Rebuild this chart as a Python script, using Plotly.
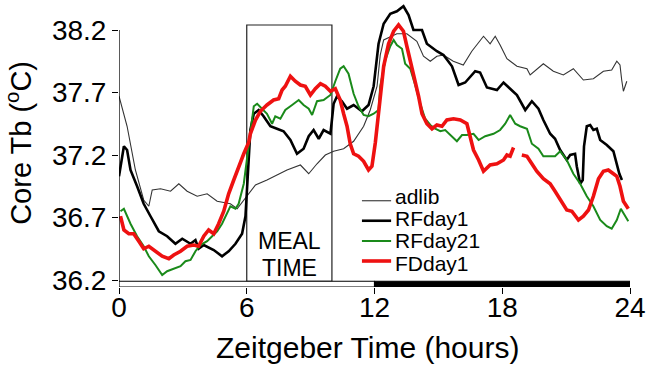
import plotly.graph_objects as go

# Zeitgeber time (hours) and core body temperature (°C) per group
adlib_t = [0.0, 0.38, 0.77, 1.16, 1.40, 1.56, 1.95, 2.42, 2.81, 3.20, 3.67, 4.14, 4.61, 5.23, 5.55,
           5.86, 6.02, 6.41, 6.95, 7.42, 7.89, 8.52, 8.91, 9.30, 9.69, 10.08, 10.55, 11.02, 11.49,
           11.80, 12.12, 12.27, 12.43, 13.05, 13.52, 13.99, 14.30, 14.62, 14.93, 15.24, 15.70,
           16.17, 16.57, 17.12, 17.43, 17.67, 17.90, 18.22, 18.69, 19.16, 19.31, 19.93, 20.40,
           20.87, 21.34, 21.81, 22.28, 22.75, 23.14, 23.38, 23.53, 23.61, 23.69, 23.85]
adlib_tb = [37.67, 37.43, 37.08, 36.84, 36.79, 36.92, 36.93, 36.91, 36.97, 36.91, 36.87, 36.89, 36.83,
            36.81, 36.77, 36.84, 36.87, 36.96, 37.00, 37.04, 37.08, 37.12, 37.05, 37.13, 37.20,
            37.23, 37.25, 37.31, 37.43, 37.56, 37.75, 38.00, 38.12, 38.17, 38.17, 38.11, 37.99,
            37.95, 37.99, 38.00, 37.95, 37.92, 38.03, 38.15, 38.09, 38.15, 38.08, 37.97, 37.91,
            37.89, 37.84, 37.93, 37.87, 37.84, 37.89, 37.80, 37.81, 37.87, 37.88, 37.95, 37.92,
            37.80, 37.71, 37.79]

rf1_t = [0.0, 0.23, 0.38, 0.54, 0.85, 1.16, 1.48, 1.87, 2.26, 2.65, 2.97, 3.36, 3.59, 3.74, 3.98,
         4.45, 4.84, 5.15, 5.47, 5.78, 5.94, 6.02, 6.17, 6.33, 6.56, 6.79, 7.11, 7.42, 7.73, 8.05,
         8.36, 8.67, 8.91, 9.14, 9.38, 9.61, 9.93, 10.00, 10.08, 10.24, 10.47, 10.71, 11.02,
         11.41, 11.72, 11.96, 12.12, 12.19, 12.43, 12.74, 13.05, 13.36, 13.60, 13.83, 14.23,
         14.46, 14.93, 15.24, 15.64, 15.95, 16.26, 16.73, 16.96, 17.28, 17.75, 18.06, 18.37,
         18.69, 19.08, 19.39, 19.70, 19.93, 20.25, 20.48, 20.72, 21.03, 21.19, 21.42, 21.50,
         21.66, 21.78, 21.84, 21.97, 22.13, 22.28, 22.44, 22.60, 22.91, 23.22, 23.38, 23.50, 23.62]
rf1_tb = [37.03, 37.27, 37.24, 37.08, 36.95, 36.81, 36.71, 36.59, 36.55, 36.49, 36.53, 36.49, 36.52,
          36.45, 36.48, 36.44, 36.39, 36.43, 36.49, 36.57, 36.71, 36.95, 37.40, 37.53, 37.56,
          37.51, 37.43, 37.41, 37.39, 37.32, 37.21, 37.25, 37.35, 37.40, 37.33, 37.40, 37.37,
          37.48, 37.61, 37.67, 37.63, 37.57, 37.60, 37.55, 37.60, 37.75, 38.01, 38.09, 38.25,
          38.33, 38.35, 38.39, 38.32, 38.20, 38.20, 38.09, 38.03, 38.00, 37.91, 37.76, 37.78,
          37.87, 37.86, 37.74, 37.72, 37.78, 37.73, 37.68, 37.56, 37.63, 37.57, 37.48, 37.37,
          37.33, 37.24, 37.16, 37.20, 37.21, 37.11, 36.97, 37.00, 37.27, 37.43, 37.44, 37.40,
          37.41, 37.32, 37.28, 37.23, 37.13, 37.05, 37.00]

rf21_t = [0.07, 0.23, 0.54, 0.85, 1.16, 1.40, 1.71, 2.03, 2.26, 2.57, 2.89, 3.12, 3.36, 3.59, 3.82,
          4.14, 4.37, 4.61, 4.84, 5.08, 5.23, 5.47, 5.62, 5.86, 5.94, 6.17, 6.33, 6.49, 6.72,
          6.95, 7.19, 7.34, 7.58, 7.81, 8.13, 8.44, 8.67, 8.91, 9.07, 9.30, 9.61, 9.93, 10.16,
          10.39, 10.55, 10.78, 11.02, 11.25, 11.49, 11.72, 11.96, 12.19, 12.27, 12.51, 12.74,
          12.90, 13.05, 13.29, 13.44, 13.68, 13.91, 14.15, 14.38, 14.62, 14.85, 15.09, 15.32,
          15.56, 15.87, 16.11, 16.34, 16.65, 16.89, 17.20, 17.59, 17.90, 18.14, 18.37, 18.61,
          18.84, 19.16, 19.39, 19.70, 19.93, 20.25, 20.48, 20.72, 21.03, 21.34, 21.66, 21.97,
          22.28, 22.60, 22.91, 23.14, 23.38, 23.57, 23.72, 23.92]
rf21_tb = [36.75, 36.77, 36.65, 36.55, 36.47, 36.39, 36.32, 36.24, 36.27, 36.29, 36.31, 36.35, 36.36,
           36.43, 36.48, 36.51, 36.55, 36.59, 36.65, 36.73, 36.79, 36.77, 36.81, 36.97, 37.08,
           37.40, 37.59, 37.61, 37.57, 37.53, 37.45, 37.51, 37.49, 37.56, 37.60, 37.64, 37.60,
           37.57, 37.52, 37.63, 37.64, 37.68, 37.79, 37.89, 37.91, 37.85, 37.69, 37.59, 37.52,
           37.51, 37.53, 37.56, 37.75, 37.96, 38.07, 38.12, 38.08, 38.05, 37.93, 37.89, 37.76,
           37.61, 37.49, 37.44, 37.41, 37.39, 37.40, 37.36, 37.31, 37.36, 37.36, 37.37, 37.32,
           37.35, 37.37, 37.40, 37.45, 37.52, 37.45, 37.43, 37.41, 37.29, 37.25, 37.19, 37.19,
           37.19, 37.23, 37.16, 37.05, 36.97, 36.87, 36.79, 36.68, 36.63, 36.61, 36.68, 36.77,
           36.73, 36.67]

# None marks the short gap in the FDday1 recording
fd1_t = [0.07, 0.23, 0.46, 0.69, 0.93, 1.16, 1.40, 1.71, 2.03, 2.34, 2.57, 2.89, 3.20, 3.51, 3.74,
         3.98, 4.21, 4.45, 4.68, 4.92, 5.15, 5.39, 5.62, 5.86, 6.09, 6.17, 6.41, 6.64, 6.95, 7.26,
         7.50, 7.66, 7.81, 8.05, 8.28, 8.52, 8.75, 8.99, 9.22, 9.46, 9.69, 9.93, 10.16, 10.39,
         10.55, 10.71, 10.86, 11.02, 11.25, 11.49, 11.72, 11.88, 12.04, 12.19, 12.27, 12.43,
         12.66, 12.90, 13.13, 13.36, 13.52, 13.68, 13.83, 14.07, 14.23, 14.46, 14.70, 14.93,
         15.17, 15.40, 15.71, 16.03, 16.34, 16.49, 16.65, 16.89, 17.12, 17.43, 17.75, 18.06,
         18.22, 18.37, 18.53, None, 18.92, 19.16, 19.39, 19.62, 19.93, 20.25, 20.48, 20.72, 21.03,
         21.27, 21.42, 21.58, 21.81, 22.05, 22.28, 22.52, 22.75, 22.98, 23.22, 23.38, 23.53,
         23.69, 23.92]
fd1_tb = [36.71, 36.60, 36.57, 36.57, 36.51, 36.45, 36.47, 36.43, 36.39, 36.37, 36.40, 36.43, 36.47,
          36.48, 36.47, 36.55, 36.60, 36.57, 36.65, 36.75, 36.89, 37.00, 37.11, 37.21, 37.30,
          37.37, 37.48, 37.55, 37.60, 37.64, 37.65, 37.72, 37.75, 37.83, 37.79, 37.76, 37.75,
          37.68, 37.73, 37.77, 37.75, 37.71, 37.73, 37.64, 37.53, 37.43, 37.29, 37.21, 37.19,
          37.15, 37.08, 37.11, 37.30, 37.52, 37.67, 37.91, 38.09, 38.19, 38.24, 38.19, 38.07,
          37.96, 37.83, 37.67, 37.53, 37.45, 37.41, 37.44, 37.43, 37.48, 37.49, 37.48, 37.45,
          37.35, 37.24, 37.16, 37.07, 37.12, 37.13, 37.16, 37.20, 37.19, 37.26, None, 37.20, 37.19,
          37.13, 37.07, 37.01, 36.97, 36.91, 36.84, 36.76, 36.75, 36.72, 36.68, 36.71, 36.76,
          36.87, 37.01, 37.07, 37.08, 37.05, 37.03, 36.95, 36.83, 36.77]

x_ticks = [0, 6, 12, 18, 24]
y_ticks = [36.2, 36.7, 37.2, 37.7, 38.2]
meal_window = [6, 10]
light_phase = [0, 12]
dark_phase = [12, 24]

series = [
    ("adlib", adlib_t, adlib_tb, "#333333", 1.1),
    ("RFday1", rf1_t, rf1_tb, "#000000", 2.6),
    ("RFday21", rf21_t, rf21_tb, "#1a8a1a", 2.0),
    ("FDday1", fd1_t, fd1_tb, "#ee1111", 3.6),
]

FONT = "Liberation Sans, Arial, sans-serif"
Y_LO, Y_HI = 36.144, 38.44
BAR_TOP = 36.19

fig = go.Figure()
for name, t, tb, color, width in series:
    fig.add_trace(go.Scatter(x=t, y=tb, mode="lines", name=name,
                             line=dict(color=color, width=width),
                             connectgaps=False, showlegend=False))

shapes = []
# y axis spine
shapes.append(dict(type="line", xref="x", yref="y", x0=0, x1=0, y0=Y_LO, y1=y_ticks[-1],
                   line=dict(color="black", width=1.3)))
# light / dark bars along the time axis
shapes.append(dict(type="rect", xref="x", yref="y", x0=light_phase[0], x1=light_phase[1],
                   y0=Y_LO, y1=BAR_TOP, line=dict(color="black", width=1.2), fillcolor="white"))
shapes.append(dict(type="rect", xref="x", yref="y", x0=dark_phase[0], x1=dark_phase[1],
                   y0=Y_LO, y1=BAR_TOP, line=dict(color="black", width=1), fillcolor="black"))
# meal window box
shapes.append(dict(type="rect", xref="x", yref="y", x0=meal_window[0], x1=meal_window[1],
                   y0=BAR_TOP, y1=38.24, line=dict(color="#222222", width=1.2),
                   fillcolor="rgba(0,0,0,0)", layer="below"))

annotations = [
    dict(x=(meal_window[0] + meal_window[1]) / 2, y=36.51, xref="x", yref="y", text="MEAL",
         showarrow=False, font=dict(family=FONT, size=23, color="black")),
    dict(x=(meal_window[0] + meal_window[1]) / 2, y=36.30, xref="x", yref="y", text="TIME",
         showarrow=False, font=dict(family=FONT, size=23, color="black")),
    dict(x=-0.197, y=37.30, xref="paper", yref="y", text="Core Tb (<sup>o</sup>C)",
         textangle=-90, showarrow=False, xanchor="center", yanchor="middle",
         font=dict(family=FONT, size=29, color="black")),
    dict(x=11.68, y=-0.212, xref="x", yref="paper", text="Zeitgeber Time (hours)",
         showarrow=False, xanchor="center", yanchor="middle",
         font=dict(family=FONT, size=30, color="black")),
]

# legend drawn as sample lines with labels
leg_line_y = [36.834, 36.674, 36.512, 36.352]
leg_text_y = [36.872, 36.694, 36.514, 36.334]
for (name, _, _, color, width), ly, ty in zip(series, leg_line_y, leg_text_y):
    shapes.append(dict(type="line", xref="x", yref="y", x0=11.41, x1=12.78, y0=ly, y1=ly,
                       line=dict(color=color, width=width)))
    annotations.append(dict(x=12.9, y=ty, xref="x", yref="y", text=name, showarrow=False,
                            xanchor="left", yanchor="middle", borderpad=0,
                            font=dict(family=FONT, size=21, color="black")))

fig.update_layout(
    width=647, height=365,
    margin=dict(l=118.5, r=17, t=0, b=78),
    paper_bgcolor="white", plot_bgcolor="white",
    shapes=shapes, annotations=annotations,
    showlegend=False,
)
fig.update_xaxes(range=[0, 24], tickvals=x_ticks, ticktext=[str(v) for v in x_ticks],
                 ticks="outside", ticklen=6, tickwidth=1.2, tickcolor="black",
                 ticklabelstandoff=-11,
                 showgrid=False, zeroline=False, showline=False,
                 tickfont=dict(family=FONT, size=28, color="black"))
fig.update_yaxes(range=[Y_LO, Y_HI], tickvals=y_ticks, ticktext=[f"{v:.1f}" for v in y_ticks],
                 ticks="outside", ticklen=6, tickwidth=1.2, tickcolor="black",
                 showgrid=False, zeroline=False, showline=False,
                 tickfont=dict(family=FONT, size=28, color="black"))

fig.write_html("out.html")
